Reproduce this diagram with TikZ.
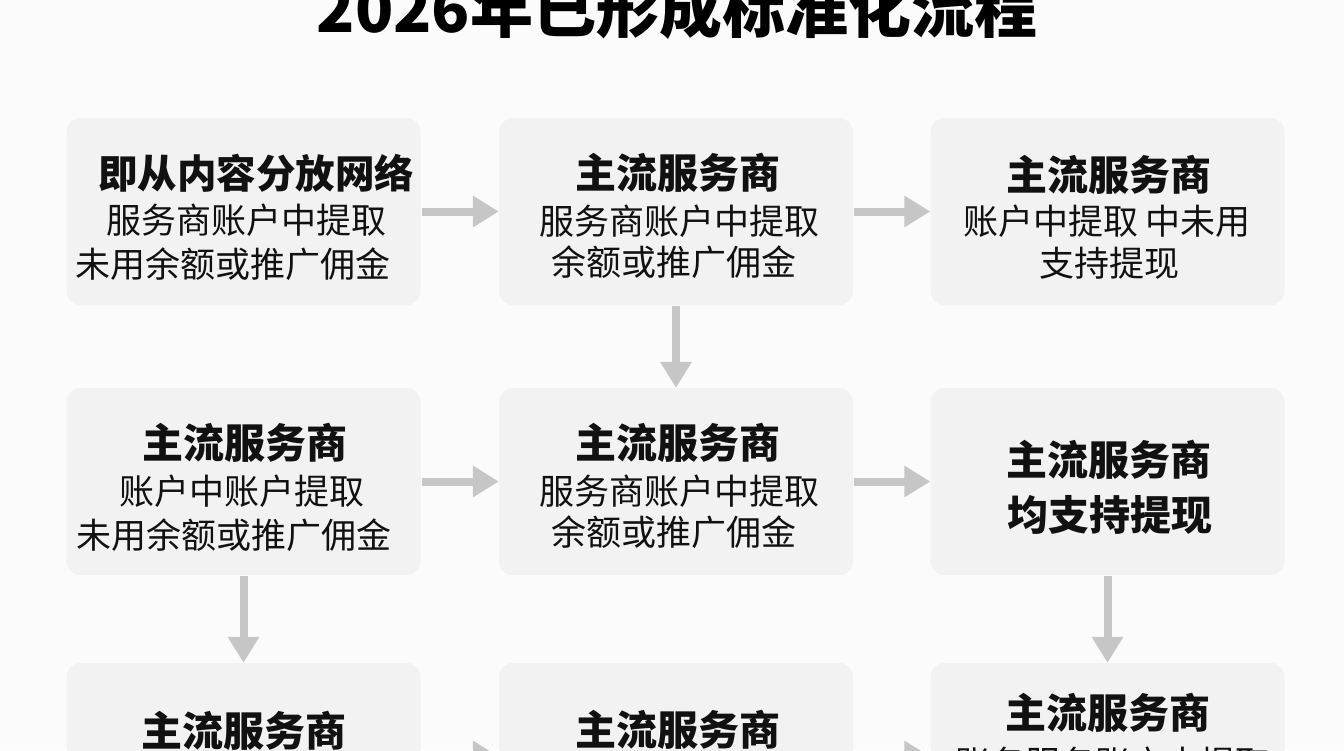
\documentclass[tikz,border=0pt]{standalone}
\usepackage{fontspec}
\setmainfont{Noto Sans CJK SC}
\usetikzlibrary{arrows.meta}
\definecolor{pagebg}{HTML}{FBFBFB}
\definecolor{boxbg}{HTML}{F2F2F2}
\definecolor{arrowgray}{HTML}{C6C6C6}
\definecolor{ink}{HTML}{111111}
\begin{document}
\begin{tikzpicture}[x=1pt,y=-1pt,
  panel/.style={fill=boxbg, draw=none, rounded corners=14pt, minimum width=354pt, minimum height=187pt, inner sep=0pt},
  headtxt/.style={font=\bfseries\fontsize{41}{48}\selectfont, text=ink, inner sep=0pt},
  bodytxt/.style={font=\fontsize{35}{42}\selectfont, text=ink, inner sep=0pt},
  titletxt/.style={font=\bfseries\fontsize{63}{70}\selectfont, text=black, inner sep=0pt},
  flow/.style={draw=arrowgray, line width=8pt, -{Triangle[length=26pt,width=30pt]}, shorten <=1pt}]
\useasboundingbox (0,0) rectangle (1344,750);
\clip (0,0) rectangle (1344,750);
\fill[pagebg] (0,0) rectangle (1344,750);

% title
\node[titletxt] (title) at (677,8) {2026年已形成标准化流程};

% boxes
\node[panel] (b11) at (243.5,211.5) {};
\node[panel] (b12) at (676,211.5) {};
\node[panel] (b13) at (1107.5,211.5) {};
\node[panel] (b21) at (243.5,481.5) {};
\node[panel] (b22) at (676,481.5) {};
\node[panel] (b23) at (1107.5,481.5) {};
\node[panel] (b31) at (243.5,756.5) {};
\node[panel] (b32) at (676,756.5) {};
\node[panel] (b33) at (1107.5,756.5) {};

% texts row 1
\node[headtxt, font=\bfseries\fontsize{39.5}{46}\selectfont] (t11a) at (256,173) {即从内容分放网络};
\node[bodytxt] (t11b) at (246,220.5) {服务商账户中提取};
\node[bodytxt] (t11c) at (232.5,264) {未用余额或推广佣金};

\node[headtxt] (t12a) at (677.5,173) {主流服务商};
\node[bodytxt] (t12b) at (679,221.5) {服务商账户中提取};
\node[bodytxt] (t12c) at (673.5,262.5) {余额或推广佣金};

\node[headtxt] (t13a) at (1108.5,175) {主流服务商};
\node[bodytxt] (t13b) at (1107,221) {账户中提取 中未用};
\node[bodytxt] (t13c) at (1109,263) {支持提现};

% texts row 2
\node[headtxt] (t21a) at (244.5,442.5) {主流服务商};
\node[bodytxt] (t21b) at (241.5,491) {账户中账户提取};
\node[bodytxt] (t21c) at (233.5,535) {未用余额或推广佣金};

\node[headtxt] (t22a) at (677.5,442.5) {主流服务商};
\node[bodytxt] (t22b) at (679,491.5) {服务商账户中提取};
\node[bodytxt] (t22c) at (673.5,532.5) {余额或推广佣金};

\node[headtxt] (t23a) at (1108.5,460) {主流服务商};
\node[headtxt] (t23b) at (1109.5,515) {均支持提现};

% texts row 3
\node[headtxt] (t31a) at (244,731) {主流服务商};
\node[headtxt] (t32a) at (677.5,730) {主流服务商};
\node[headtxt] (t33a) at (1107.5,713) {主流服务商};
\node[bodytxt] (t33b) at (1113,763) {账务服务账户中提取};

% connectors
\draw[flow] (b11.east) -- (b12.west);
\draw[flow] (b12.east) -- (b13.west);
\draw[flow] (b12.south) -- (b22.north);
\draw[flow] (b21.east) -- (b22.west);
\draw[flow] (b22.east) -- (b23.west);
\draw[flow] (b21.south) -- (b31.north);
\draw[flow] (b23.south) -- (b33.north);
\draw[flow] (b31.east) -- (b32.west);
\draw[flow] (b32.east) -- (b33.west);
\end{tikzpicture}
\end{document}
